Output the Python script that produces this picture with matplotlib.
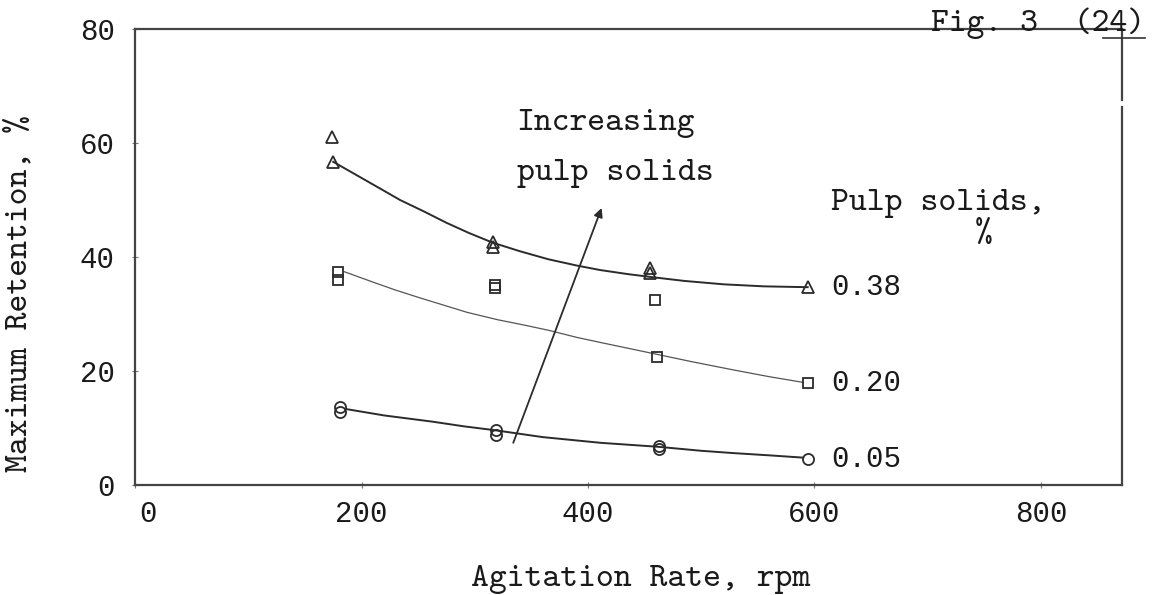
import matplotlib
matplotlib.use("Agg")
import matplotlib.pyplot as plt
from matplotlib.lines import Line2D
from matplotlib.transforms import ScaledTranslation

# measured points: agitation rate (rpm) vs maximum retention (%)
rpm_038 = [174, 175, 316, 316, 455, 455, 594]
ret_038 = [61.0, 56.7, 42.6, 41.8, 38.0, 37.2, 34.7]
rpm_020 = [179, 179, 318, 318, 459, 461, 594]
ret_020 = [37.4, 36.0, 35.1, 34.5, 32.5, 22.5, 17.9]
rpm_005 = [181, 181, 319, 319, 463, 463, 594]
ret_005 = [13.7, 12.8, 9.6, 8.8, 6.8, 6.3, 4.6]

# hand-drawn trend curves through the points
curve_rpm_038 = [175, 190, 205, 220, 234, 255, 275, 295, 316, 340, 365, 390, 411, 435, 455,
                 485, 520, 555, 594]
curve_ret_038 = [56.7, 55.0, 53.3, 51.6, 50.0, 48.0, 46.0, 44.2, 42.5, 41.0, 39.6, 38.5, 37.7,
                 37.0, 36.5, 35.8, 35.2, 34.85, 34.7]
curve_rpm_020 = [185, 210, 230, 252, 275, 293, 320, 345, 366, 390, 411, 435, 459, 490, 528,
                 560, 590]
curve_ret_020 = [37.4, 35.6, 34.2, 32.8, 31.4, 30.3, 29.0, 28.0, 27.1, 25.9, 25.0, 24.0, 23.0,
                 21.7, 20.2, 19.0, 18.0]
curve_rpm_005 = [187, 220, 263, 290, 318, 360, 411, 462, 500, 528, 560, 590]
curve_ret_005 = [13.3, 12.2, 11.1, 10.3, 9.6, 8.4, 7.4, 6.7, 6.0, 5.6, 5.2, 4.8]

solids = ["0.38", "0.20", "0.05"]
x_ticks = [0, 200, 400, 600, 800]
y_ticks = [0, 20, 40, 60, 80]

TYPE = ["cmtt10", "DejaVu Sans Mono"]
NUM = ["Liberation Mono", "DejaVu Sans Mono"]
INK = "#2b2b2b"
TXT = "#1a1a1a"
FS = 24.5

fig = plt.figure(figsize=(11.67, 5.95), dpi=100)
ax = fig.add_axes([0.1157, 0.1849, 0.8457, 0.7664])

ax.plot(curve_rpm_038, curve_ret_038, color=INK, lw=1.4)
ax.plot(curve_rpm_020, curve_ret_020, color="#555555", lw=0.9)
ax.plot(curve_rpm_005, curve_ret_005, color=INK, lw=1.4)

mk = dict(linestyle="none", markerfacecolor="none", markeredgecolor=INK, markeredgewidth=1.3)
ax.plot(rpm_038, ret_038, marker="^", markersize=8.5, **mk)
ax.plot(rpm_020, ret_020, marker="s", markersize=7, **mk)
ax.plot(rpm_005, ret_005, marker="o", markersize=8, **mk)

# solids labels at the right end of each curve
for label, xs, ys in zip(solids, [rpm_038, rpm_020, rpm_005], [ret_038, ret_020, ret_005]):
    ax.annotate(label, xy=(xs[-1], ys[-1]), xytext=(17, 0), textcoords="offset points",
                va="center", ha="left", fontsize=21, family=NUM, color=TXT)

ax.text(615, 48.2, "Pulp solids,", fontsize=FS, family=TYPE, va="baseline", color=TXT)
ax.text(749, 43.9, "%", fontsize=FS, family=TYPE, va="center", ha="center", color=TXT)
ax.text(337, 62.3, "Increasing", fontsize=FS, family=TYPE, va="baseline", color=TXT)
ax.text(337, 53.5, "pulp solids", fontsize=FS, family=TYPE, va="baseline", color=TXT)

ax.annotate("", xy=(412, 48.6), xytext=(334, 7.4),
            arrowprops=dict(arrowstyle="-|>", color=INK, lw=1.3, mutation_scale=13,
                            shrinkA=0, shrinkB=0))

ax.set_xlim(0, 871.5)
ax.set_ylim(0, 80)
ax.set_xticks(x_ticks)
ax.set_yticks(y_ticks)
ax.tick_params(direction="inout", length=5, width=0.8, color="#777777",
               labelsize=21, labelcolor=TXT)
ax.tick_params(axis="x", pad=8)
ax.tick_params(axis="y", pad=12)
for lab in ax.get_xticklabels() + ax.get_yticklabels():
    lab.set_family(NUM)
# the typed "0" sits a little right of the origin
zero = ax.get_xticklabels()[0]
zero.set_transform(zero.get_transform() + ScaledTranslation(13 / 100, 0, fig.dpi_scale_trans))

ax.set_xlabel("Agitation Rate, rpm", fontsize=FS, family=TYPE, color=TXT)
ax.set_ylabel("Maximum Retention, %", fontsize=FS, family=TYPE, color=TXT)
ax.xaxis.set_label_coords(0.512, -0.175)
ax.yaxis.set_label_coords(-0.102, 0.421)

for side in ["left", "bottom", "top"]:
    ax.spines[side].set_color("#444444")
    ax.spines[side].set_linewidth(1.6)
ax.spines["right"].set_visible(False)
# right frame line is typed in two pieces with a small break near the top
ax.axvline(871.5, ymin=0, ymax=0.829, color="#444444", lw=1.6, clip_on=False)
ax.axvline(871.5, ymin=0.844, ymax=1, color="#444444", lw=1.6, clip_on=False)

fig.text(931 / 1167, 1 - 31 / 595, "Fig. 3  (24)", fontsize=FS, family=TYPE,
         va="baseline", ha="left", color=TXT)
fig.add_artist(Line2D([1103 / 1167, 1145 / 1167], [1 - 38 / 595] * 2, color="#333333", lw=1.2))

fig.savefig("out.png", dpi=100, facecolor="white")
